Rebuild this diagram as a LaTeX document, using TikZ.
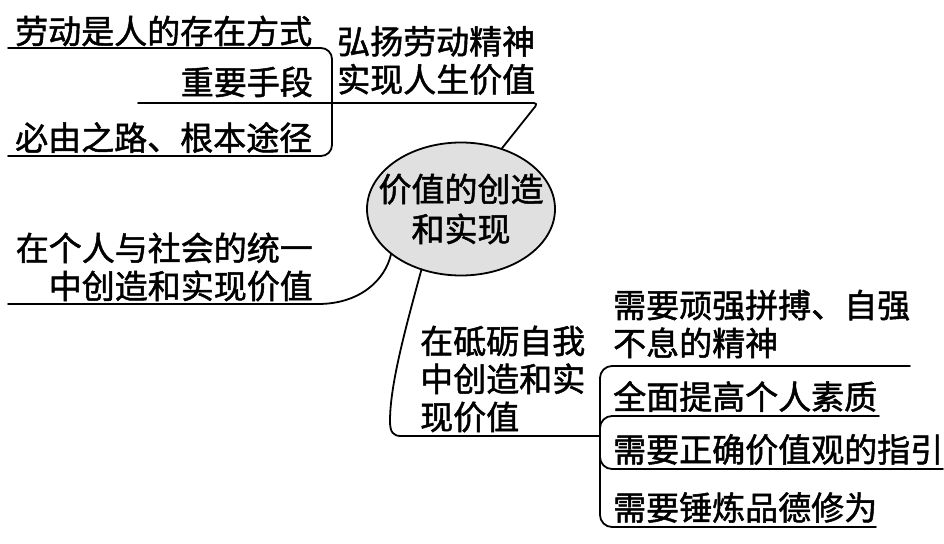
\documentclass[tikz,border=0pt]{standalone}
\usepackage{fontspec}
\newfontfamily\cjk{Noto Sans CJK SC}[FakeBold=1.5]
\usetikzlibrary{shapes.geometric}
\tikzset{
  txt/.style={inner sep=0pt, font={\cjk\fontsize{33}{38}\selectfont}},
  ell/.style={ellipse, draw, line width=1.8pt, fill=black!12, minimum width=188pt, minimum height=133pt, inner xsep=-24pt, inner ysep=0pt, font={\cjk\fontsize{33}{40}\selectfont}, align=center},
  conn/.style={line width=1.8pt, line cap=round, line join=round}
}
\begin{document}
\begin{tikzpicture}[x=1pt,y=-1pt]
\useasboundingbox (0,0) rectangle (944,543);
% texts
\node[txt, anchor=west] (a1) at (15,31) {劳动是人的存在方式};
\node[txt, anchor=east] (a2) at (313,82) {重要手段};
\node[txt, anchor=west] (a3) at (15,137.5) {必由之路、根本途径};
\node[txt, anchor=west, align=left] (b) at (337,60.5) {弘扬劳动精神\\实现人生价值};
\node[ell] (c) at (461,209) {价值的创造\\和实现};
\node[txt, anchor=east, align=right] (d) at (313,267) {在个人与社会的统一\\中创造和实现价值};
\node[txt, anchor=west, align=left] (e) at (420,379) {在砥砺自我\\中创造和实\\现价值};
\node[txt, anchor=west, align=left] (f1) at (613,324) {需要顽强拼搏、自强\\不息的精神};
\node[txt, anchor=west] (f2) at (613,396.5) {全面提高个人素质};
\node[txt, anchor=west] (f3) at (613,449.5) {需要正确价值观的指引};
\node[txt, anchor=west] (f4) at (613,507.5) {需要锤炼品德修为};
% coordinates
\coordinate (a1s) at (8,48);
\coordinate (a3s) at (8,156);
\coordinate (brk) at (332,48);
\coordinate (brb) at (332,156);
\coordinate (a2s) at (138,103);
\coordinate (a2e) at (538,103);
\coordinate (ds) at (8,304);
\coordinate (de) at (318,304);
\coordinate (ek) at (390,421);
\coordinate (eh) at (401,436);
\coordinate (rj) at (600,436);
\coordinate (r1) at (910,366);
\coordinate (r1c) at (600,366);
\coordinate (r2) at (879,416);
\coordinate (r2c) at (600,416);
\coordinate (r3) at (943,469);
\coordinate (r3c) at (600,469);
\coordinate (r4) at (876,527);
\coordinate (r4c) at (600,527);
% connectors
\draw[conn, rounded corners=11pt] (a1s) -- (brk) -- (brb) -- (a3s);
\draw[conn, rounded corners=4pt] (a2s) -- (a2e) -- (c.56);
\draw[conn] (ds) -- (de) .. controls (360,304) and (385,280) .. (c.213);
\draw[conn] (c.237) .. controls (405,330) and (390,385) .. (ek) .. controls (390,432) and (393,436) .. (eh) -- (rj);
\draw[conn, rounded corners=12pt] (r1) -- (r1c) -- (r4c) -- (r4);
\draw[conn, rounded corners=12pt] (r2) -- (r2c) -- (600,445);
\draw[conn, rounded corners=12pt] (600,440) -- (r3c) -- (r3);
\end{tikzpicture}
\end{document}
